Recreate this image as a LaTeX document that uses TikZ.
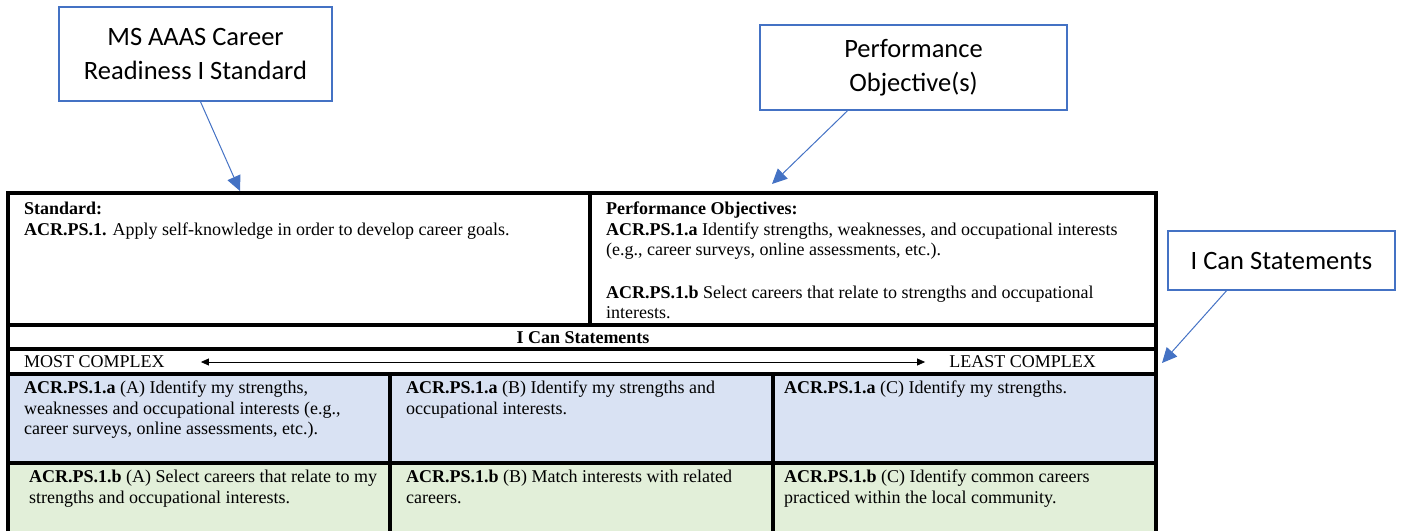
\documentclass[tikz,border=0pt]{standalone}
\usepackage{fontspec}
\setmainfont{Liberation Serif}
\newfontfamily\calloutfont{Carlito}
\usetikzlibrary{arrows.meta}

\definecolor{callblue}{HTML}{4472C4}
\definecolor{rowblue}{HTML}{D9E2F3}
\definecolor{rowgreen}{HTML}{E2EFD9}

\begin{document}
\begin{tikzpicture}[x=1pt,y=1pt]
\tikzstyle{every node}+=[inner sep=0pt]
\tikzstyle{callout}=[draw=callblue, line width=1.5pt, fill=white, align=center, font=\calloutfont\fontsize{26.5}{34}\selectfont]
\tikzstyle{pointer}=[callblue, line width=1pt, -{Triangle[length=15pt,width=14pt]}]
\tikzstyle{grid}=[black, line width=3.3pt]
\tikzstyle{cell}=[anchor=north west, align=left, font=\fontsize{18}{20.5}\selectfont]
\tikzstyle{span}=[black, line width=0.8pt, {Triangle[length=8pt,width=7pt]}-{Triangle[length=8pt,width=7pt]}]
\useasboundingbox (0,0) rectangle (1402,-531);

\node [callout, minimum width=273, minimum height=94] (standardbox) at (195.5,-54) {MS AAAS Career\\Readiness I Standard};
\node [callout, minimum width=307, minimum height=85] (objbox) at (913.5,-67.5) {Performance\\Objective(s)};
\node [callout, minimum width=227, minimum height=59] (icanbox) at (1281.5,-260.5) {I Can Statements};
\coordinate (standardtip) at (240,-191);
\coordinate (objtip) at (772,-184);
\coordinate (icantip) at (1162,-363);
\draw [pointer] ([xshift=5]standardbox.south) -- (standardtip);
\draw [pointer] ([xshift=-66]objbox.south) -- (objtip);
\draw [pointer] ([xshift=-55]icanbox.south) -- (icantip);

\fill [rowblue] (8,-374) rectangle (1156,-463);
\fill [rowgreen] (8,-463) rectangle (1156,-531);
\draw [grid] (8,-531) -- (8,-193) -- (1156,-193) -- (1156,-531);
\draw [grid] (8,-325) -- (1156,-325);
\draw [grid] (8,-349) -- (1156,-349);
\draw [grid] (8,-374) -- (1156,-374);
\draw [grid] (8,-463) -- (1156,-463);
\draw [grid] (590,-193) -- (590,-325);
\draw [grid] (390,-374) -- (390,-531);
\draw [grid] (773,-374) -- (773,-531);

\node [cell] (standard) at (24,-202) {\textbf{Standard:}\\\textbf{ACR.PS.1.} Apply self-knowledge in order to develop career goals.};
\node [cell] (objectives) at (606,-202) {\textbf{Performance Objectives:}\\\textbf{ACR.PS.1.a} Identify strengths, weaknesses, and occupational interests\\(e.g., career surveys, online assessments, etc.).\\[22pt]\textbf{ACR.PS.1.b} Select careers that relate to strengths and occupational\\interests.};
\node [font=\fontsize{18}{20.5}\selectfont\bfseries] (ican) at (583,-338) {I Can Statements};
\node [anchor=west, font=\fontsize{18}{20.5}\selectfont] (most) at (24,-362) {MOST COMPLEX};
\node [anchor=east, font=\fontsize{18}{20.5}\selectfont] (least) at (1096,-362) {LEAST COMPLEX};
\draw [span, shorten <=36, shorten >=24] (most) -- (least);

\node [cell] (a1) at (24,-381) {\textbf{ACR.PS.1.a} (A) Identify my strengths,\\weaknesses and occupational interests (e.g.,\\career surveys, online assessments, etc.).};
\node [cell] (a2) at (406,-381) {\textbf{ACR.PS.1.a} (B) Identify my strengths and\\occupational interests.};
\node [cell] (a3) at (784,-381) {\textbf{ACR.PS.1.a} (C) Identify my strengths.};
\node [cell] (b1) at (29,-470) {\textbf{ACR.PS.1.b} (A) Select careers that relate to my\\strengths and occupational interests.};
\node [cell] (b2) at (406,-470) {\textbf{ACR.PS.1.b} (B) Match interests with related\\careers.};
\node [cell] (b3) at (784,-470) {\textbf{ACR.PS.1.b} (C) Identify common careers\\practiced within the local community.};
\end{tikzpicture}
\end{document}
